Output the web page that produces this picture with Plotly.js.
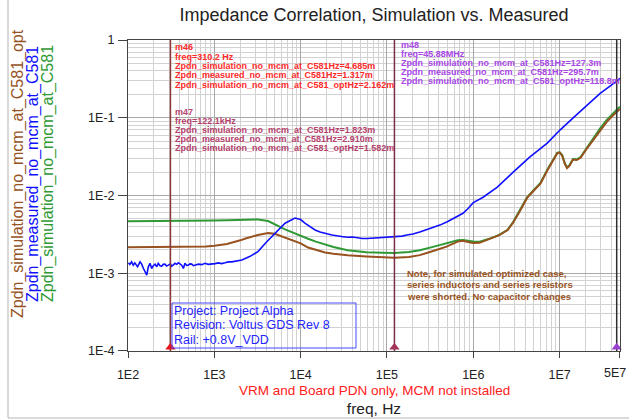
<!DOCTYPE html>
<html>
<head>
<meta charset="utf-8">
<script src="https://cdn.plot.ly/plotly-3.0.1.min.js"></script>
<style>html,body{margin:0;padding:0;background:#fff;}#chart{width:629px;height:419px;}</style>
</head>
<body>
<div id="chart"></div>
<script>
// ---------- data ----------
var simFreq = [100, 200, 310.2, 500, 800, 1000, 1400, 2000, 2300, 3200, 4200, 5000, 5500, 6500, 7900,
  10000, 12200, 15000, 19200, 24000, 35000, 58000, 90000, 122100, 180000, 240000, 350000, 490000,
  660000, 760000, 900000, 1000000, 1180000, 1500000, 2000000, 2500000, 2900000, 3500000, 4200000,
  5000000, 6000000, 7200000, 8500000, 9400000, 10000000, 10700000, 11500000, 12200000, 13000000,
  14300000, 15800000, 17500000, 20800000, 25000000, 29500000, 35000000, 40000000, 45880000, 50000000];

var zSim = [4.67e-3, 4.68e-3, 4.685e-3, 4.70e-3, 4.74e-3, 4.77e-3, 4.82e-3, 4.88e-3, 4.90e-3, 4.92e-3,
  4.70e-3, 4.25e-3, 4.00e-3, 3.70e-3, 3.38e-3, 3.00e-3, 2.78e-3, 2.55e-3, 2.35e-3, 2.18e-3, 1.98e-3,
  1.86e-3, 1.83e-3, 1.823e-3, 1.88e-3, 1.98e-3, 2.20e-3, 2.45e-3, 2.65e-3, 2.68e-3, 2.60e-3, 2.56e-3,
  2.55e-3, 2.75e-3, 3.12e-3, 3.62e-3, 4.55e-3, 6.5e-3, 9.5e-3, 1.17e-2, 1.45e-2, 2.15e-2, 3.0e-2,
  3.55e-2, 3.62e-2, 3.32e-2, 2.6e-2, 2.3e-2, 2.45e-2, 2.95e-2, 2.92e-2, 3.12e-2, 4.15e-2, 5.6e-2,
  7.3e-2, 9.3e-2, 0.110, 0.1273, 0.139];

var zSimOpt = [2.16e-3, 2.16e-3, 2.162e-3, 2.17e-3, 2.20e-3, 2.25e-3, 2.38e-3, 2.65e-3, 2.80e-3, 3.10e-3,
  3.28e-3, 3.22e-3, 3.10e-3, 2.90e-3, 2.65e-3, 2.42e-3, 2.14e-3, 2.00e-3, 1.85e-3, 1.78e-3, 1.70e-3,
  1.64e-3, 1.60e-3, 1.582e-3, 1.62e-3, 1.71e-3, 1.95e-3, 2.20e-3, 2.55e-3, 2.62e-3, 2.50e-3, 2.45e-3,
  2.46e-3, 2.70e-3, 3.09e-3, 3.59e-3, 4.5e-3, 6.4e-3, 9.3e-3, 1.15e-2, 1.42e-2, 2.1e-2, 2.95e-2,
  3.5e-2, 3.57e-2, 3.27e-2, 2.55e-2, 2.25e-2, 2.4e-2, 2.9e-2, 2.86e-2, 3.05e-2, 4.05e-2, 5.4e-2,
  7.0e-2, 8.8e-2, 0.103, 0.1188, 0.130];

var measFreq = [101, 105, 110, 115, 120, 129, 138, 144, 151, 157, 165, 172, 180, 188, 197, 206, 215, 224,
  235, 245, 256, 268, 280, 293, 310.2, 321, 336, 351, 367, 383, 400, 419, 438, 457, 478, 500, 523, 547,
  571, 597, 625, 653, 715, 780, 850, 933, 1020, 1112, 1220, 1330, 1452, 1592, 1800, 2090, 2600, 3200,
  4000, 5050, 6600, 8600, 10000, 11200, 14700, 16800, 23000, 31000, 35000, 40000, 45000, 52000, 59000,
  65000, 70000, 80000, 95000, 122100, 150000, 170000, 200000, 240000, 330000, 410000, 500000, 590000,
  700000, 760000, 870000, 1000000, 1300000, 1900000, 2900000, 4500000, 7200000, 10100000, 15000000,
  20000000, 29500000, 45880000, 50000000];

var zMeas = [1.36e-3, 1.30e-3, 1.40e-3, 1.27e-3, 1.36e-3, 1.21e-3, 1.40e-3, 1.31e-3, 1.15e-3, 1.04e-3,
  0.946e-3, 1.21e-3, 1.34e-3, 1.15e-3, 1.26e-3, 1.31e-3, 1.21e-3, 1.34e-3, 1.25e-3, 1.23e-3, 1.30e-3,
  1.31e-3, 1.24e-3, 1.27e-3, 1.317e-3, 1.23e-3, 1.29e-3, 1.34e-3, 1.30e-3, 1.36e-3, 1.32e-3, 1.27e-3,
  1.15e-3, 1.34e-3, 1.26e-3, 1.27e-3, 1.32e-3, 1.31e-3, 1.25e-3, 1.27e-3, 1.30e-3, 1.31e-3, 1.29e-3,
  1.34e-3, 1.30e-3, 1.31e-3, 1.33e-3, 1.36e-3, 1.33e-3, 1.36e-3, 1.40e-3, 1.40e-3, 1.43e-3, 1.48e-3,
  1.65e-3, 1.90e-3, 2.5e-3, 3.3e-3, 4.4e-3, 5.12e-3, 4.9e-3, 4.4e-3, 3.6e-3, 3.4e-3, 3.1e-3, 2.95e-3,
  2.9e-3, 2.93e-3, 2.85e-3, 2.8e-3, 2.8e-3, 2.82e-3, 2.78e-3, 2.82e-3, 2.86e-3, 2.91e-3, 3.0e-3, 3.1e-3,
  3.2e-3, 3.4e-3, 3.8e-3, 4.16e-3, 4.6e-3, 5.1e-3, 5.6e-3, 5.9e-3, 6.8e-3, 8.1e-3, 9.5e-3, 1.28e-2,
  2.0e-2, 3.12e-2, 4.72e-2, 6.95e-2, 0.104, 0.139, 0.206, 0.2957, 0.322];

var markerNames = ['m46', 'm47', 'm48'];
var markerFreqs = [310.2, 122100, 45880000];

var xTickVals = [100, 1e3, 1e4, 1e5, 1e6, 1e7, 5e7];
var xTickText = ['1E2', '1E3', '1E4', '1E5', '1E6', '1E7', '5E7'];
var yTickVals = [1e-4, 1e-3, 1e-2, 1e-1, 1];
var yTickText = ['1E-4', '1E-3', '1E-2', '1E-1', '1'];

var seriesNames = ['Zpdn_simulation_no_mcm_at_C581_opt', 'Zpdn_measured_no_mcm_at_C581', 'Zpdn_simulation_no_mcm_at_C581'];

var m46Lines = ['m46', 'freq=310.2 Hz', 'Zpdn_simulation_no_mcm_at_C581Hz=4.685m',
  'Zpdn_measured_no_mcm_at_C581Hz=1.317m', 'Zpdn_simulation_no_mcm_at_C581_optHz=2.162m'];
var m47Lines = ['m47', 'freq=122.1kHz', 'Zpdn_simulation_no_mcm_at_C581Hz=1.823m',
  'Zpdn_measured_no_mcm_at_C581Hz=2.910m', 'Zpdn_simulation_no_mcm_at_C581_optHz=1.582m'];
var m48Lines = ['m48', 'freq=45.88MHz', 'Zpdn_simulation_no_mcm_at_C581Hz=127.3m',
  'Zpdn_measured_no_mcm_at_C581Hz=295.7m', 'Zpdn_simulation_no_mcm_at_C581_optHz=118.8m'];
var noteLines = ['Note, for simulated optimized case,', 'series inductors and series resistors',
  'were shorted. No capacitor changes'];
var projLines = ['Project: Project Alpha', 'Revision: Voltus GDS Rev 8', 'Rail: +0.8V_VDD'];

// ---------- styling ----------
var FONT = 'Arial, "Liberation Sans", sans-serif';
var cBrown = '#97521f', cBlue = '#1010ff', cGreen = '#2f9a35';
var lineColors = ['#8a3a3a', '#7a2d48', '#303030'];
var triColors = ['#e8141e', '#a3345a', '#9b3fd2'];

var W = 629, H = 419, L = 128, R = 9, T = 40, B = 68;
var pw = W - L - R, ph = H - T - B;
function px(x) { return (x - L) / pw; }
function py(y) { return (H - B - y) / ph; }

var traces = [];
traces.push({x: simFreq, y: zSim, mode: 'lines', line: {color: cGreen, width: 2}, name: seriesNames[2], hoverinfo: 'skip'});
traces.push({x: simFreq, y: zSimOpt, mode: 'lines', line: {color: cBrown, width: 2}, name: seriesNames[0], hoverinfo: 'skip'});
traces.push({x: measFreq, y: zMeas, mode: 'lines', line: {color: cBlue, width: 1.6}, name: seriesNames[1], hoverinfo: 'skip'});

for (var i = 0; i < markerFreqs.length; i++) {
  traces.push({x: [markerFreqs[i], markerFreqs[i]], y: [1e-4, 1], mode: 'lines',
    line: {color: lineColors[i], width: 1.5}, hoverinfo: 'skip'});
}
// top triangles + labels
traces.push({x: markerFreqs, y: markerFreqs.map(function () { return 1.13; }), mode: 'markers+text',
  text: markerNames, textposition: 'top center', textfont: {size: 7, color: '#333', family: FONT, weight: 'bold'},
  marker: {symbol: 'triangle-down', size: 9, color: triColors}, cliponaxis: false, hoverinfo: 'skip'});
// bottom triangles
traces.push({x: markerFreqs, y: markerFreqs.map(function () { return 1.12e-4; }), mode: 'markers',
  marker: {symbol: 'triangle-up', size: 9, color: triColors}, cliponaxis: false, hoverinfo: 'skip'});

var ann = [];
function addLines(lines, x, y0, dy, color, size, bold) {
  for (var k = 0; k < lines.length; k++) {
    ann.push({xref: 'paper', yref: 'paper', x: px(x), y: py(y0 + k * dy), xanchor: 'left', yanchor: 'middle',
      showarrow: false, text: bold ? '<b>' + lines[k] + '</b>' : lines[k],
      font: {family: FONT, size: size, color: color}});
  }
}
addLines(m46Lines, 173, 47.5, 9.3, '#ff2a2a', 9, true);
addLines(m47Lines, 173, 112, 9.1, '#b5416c', 9, true);
addLines(m48Lines, 399, 45, 9.0, '#a846e6', 9, true);
addLines(noteLines, 405, 273.5, 11.3, '#9a5524', 9.5, true);
addLines(projLines, 172, 310.5, 14.5, '#2424ff', 12.5, false);

// y-axis colored titles
var yTitleColors = [cBrown, cBlue, cGreen];
var yTitleX = [18, 33, 48];
for (var j = 0; j < 3; j++) {
  ann.push({xref: 'paper', yref: 'paper', x: px(yTitleX[j]), y: py(174), xanchor: 'center', yanchor: 'middle',
    textangle: -90, showarrow: false, text: seriesNames[j], font: {family: FONT, size: 16, color: yTitleColors[j]}});
}
ann.push({xref: 'paper', yref: 'paper', x: px(374), y: py(390), xanchor: 'center', yanchor: 'middle',
  showarrow: false, text: 'VRM and Board PDN only, MCM not installed', font: {family: FONT, size: 13.5, color: '#ff2020'}});

// last x tick label placed as an annotation so it stays inside the picture
var lastIdx = xTickText.length - 1;
ann.push({xref: 'paper', yref: 'paper', x: px(628), y: py(373), xanchor: 'right', yanchor: 'middle',
  showarrow: false, text: xTickText[lastIdx], font: {family: FONT, size: 12.5, color: '#222'}});
var axisTickText = xTickText.map(function (t, k) { return k === lastIdx ? '' : t; });

var shapes = [
  {type: 'rect', xref: 'paper', yref: 'paper', x0: px(172), x1: px(356), y0: py(348), y1: py(303),
    line: {color: '#4848ff', width: 1}},
  {type: 'rect', xref: 'paper', yref: 'paper', x0: px(8), x1: px(650), y0: py(418), y1: py(-20),
    line: {color: '#b4b4b4', width: 1}}
];

var axisCommon = {
  type: 'log', showline: true, linecolor: '#444', linewidth: 1, mirror: true,
  ticks: 'outside', tickcolor: '#444', showgrid: true, gridcolor: '#a9a9a9', gridwidth: 1,
  zeroline: false, tickfont: {family: FONT, size: 12.5, color: '#222'},
  minor: {dtick: 'D1', showgrid: true, gridcolor: '#d2d2d2', gridwidth: 1, ticks: ''}
};

var layout = {
  width: W, height: H,
  margin: {l: L, r: R, t: T, b: B},
  paper_bgcolor: '#fff', plot_bgcolor: '#fff',
  showlegend: false,
  font: {family: FONT},
  title: {text: 'Impedance Correlation, Simulation vs. Measured', font: {family: FONT, size: 18, color: '#222'},
    xref: 'paper', x: 0.5, xanchor: 'center', y: 1 - 15 / H, yanchor: 'middle'},
  xaxis: Object.assign({}, axisCommon, {
    range: [2, Math.log10(5e7) + 0.0008], tickvals: xTickVals, ticktext: axisTickText, ticklen: 6, ticklabelstandoff: 6,
    title: {text: 'freq, Hz', font: {family: FONT, size: 15.5, color: '#222'}, standoff: 22}
  }),
  yaxis: Object.assign({}, axisCommon, {
    range: [-4.0005, 0.0005], tickvals: yTickVals, ticktext: yTickText, ticklen: 9, ticklabelstandoff: 1
  }),
  annotations: ann,
  shapes: shapes
};

Plotly.newPlot('chart', traces, layout, {displayModeBar: false, staticPlot: true});
</script>
</body>
</html>
